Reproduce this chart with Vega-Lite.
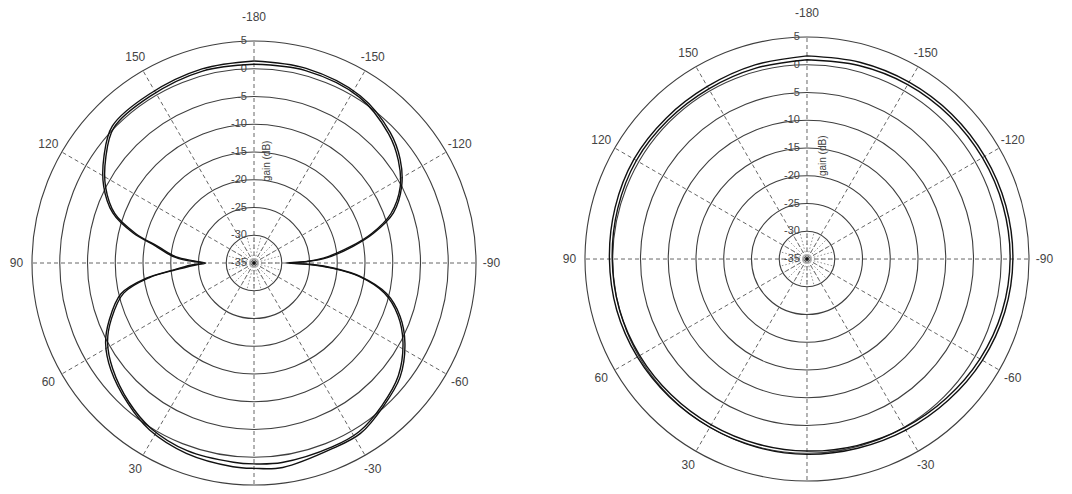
{
  "$schema": "https://vega.github.io/schema/vega-lite/v6.json",
  "padding": 0,
  "spacing": 0,
  "background": "white",
  "config": {"view": {"stroke": null}, "text": {"font": "Liberation Sans"}},
  "datasets": {
    "rings": [{"r": 5}, {"r": 10}, {"r": 15}, {"r": 20}, {"r": 25}, {"r": 30}, {"r": 35}, {"r": 40}],
    "spokes": [{"a": 0}, {"a": 30}, {"a": 60}, {"a": 90}, {"a": 120}, {"a": 150}, {"a": 180}, {"a": 210}, {"a": 240}, {"a": 270}, {"a": 300}, {"a": 330}],
    "minor": [{"a": 0}, {"a": 15}, {"a": 30}, {"a": 45}, {"a": 60}, {"a": 75}, {"a": 90}, {"a": 105}, {"a": 120}, {"a": 135}, {"a": 150}, {"a": 165}, {"a": 180}, {"a": 195}, {"a": 210}, {"a": 225}, {"a": 240}, {"a": 255}, {"a": 270}, {"a": 285}, {"a": 300}, {"a": 315}, {"a": 330}, {"a": 345}],
    "angleLabels": [
      {"a": 180, "t": "-180"}, {"a": 150, "t": "150"}, {"a": 120, "t": "120"}, {"a": 90, "t": "90"},
      {"a": 60, "t": "60"}, {"a": 30, "t": "30"}, {"a": -30, "t": "-30"}, {"a": -60, "t": "-60"},
      {"a": -90, "t": "-90"}, {"a": -120, "t": "-120"}, {"a": -150, "t": "-150"}
    ],
    "gainLabels": [
      {"g": 5, "t": "5"}, {"g": 0, "t": "0"}, {"g": -5, "t": "-5"}, {"g": -10, "t": "-10"},
      {"g": -15, "t": "-15"}, {"g": -20, "t": "-20"}, {"g": -25, "t": "-25"}, {"g": -30, "t": "-30"}, {"g": -35, "t": "-35"}
    ],
    "leftPattern": [
      {"trace": "A", "a": -180, "g": 1.4}, {"trace": "A", "a": -165, "g": 1.3}, {"trace": "A", "a": -147.6, "g": 0.7},
      {"trace": "A", "a": -133.8, "g": -1.0}, {"trace": "A", "a": -125.4, "g": -2.7}, {"trace": "A", "a": -117.5, "g": -5.0},
      {"trace": "A", "a": -109.8, "g": -8.3}, {"trace": "A", "a": -104, "g": -12.8}, {"trace": "A", "a": -99.6, "g": -16.9},
      {"trace": "A", "a": -94, "g": -21.9}, {"trace": "A", "a": -91.5, "g": -25.5}, {"trace": "A", "a": -90, "g": -29.2},
      {"trace": "A", "a": -88.5, "g": -24.5}, {"trace": "A", "a": -86.4, "g": -20.7}, {"trace": "A", "a": -82.8, "g": -15.7},
      {"trace": "A", "a": -77, "g": -10.5}, {"trace": "A", "a": -70, "g": -7.0}, {"trace": "A", "a": -62, "g": -4.2},
      {"trace": "A", "a": -52, "g": -1.6}, {"trace": "A", "a": -42, "g": -0.2}, {"trace": "A", "a": -32, "g": 1.2},
      {"trace": "A", "a": -23, "g": 1.3}, {"trace": "A", "a": -8, "g": 2.2}, {"trace": "A", "a": 0, "g": 2.0},
      {"trace": "A", "a": 5.9, "g": 1.9}, {"trace": "A", "a": 19.6, "g": 1.4}, {"trace": "A", "a": 32, "g": 0.5},
      {"trace": "A", "a": 42, "g": -1.0}, {"trace": "A", "a": 53.2, "g": -2.8}, {"trace": "A", "a": 61.6, "g": -4.6},
      {"trace": "A", "a": 68.6, "g": -7.0}, {"trace": "A", "a": 77, "g": -10.4}, {"trace": "A", "a": 82, "g": -15.4},
      {"trace": "A", "a": 85, "g": -20.3}, {"trace": "A", "a": 88, "g": -23.5}, {"trace": "A", "a": 90, "g": -25.8},
      {"trace": "A", "a": 92, "g": -23.0}, {"trace": "A", "a": 94.7, "g": -20.3}, {"trace": "A", "a": 99.7, "g": -17.1},
      {"trace": "A", "a": 104, "g": -12.5}, {"trace": "A", "a": 109.5, "g": -8.0}, {"trace": "A", "a": 117, "g": -4.6},
      {"trace": "A", "a": 125.5, "g": -1.8}, {"trace": "A", "a": 134, "g": 0.5}, {"trace": "A", "a": 148, "g": 0.8},
      {"trace": "A", "a": 165, "g": 1.2}, {"trace": "A", "a": 180, "g": 1.4},
      {"trace": "B", "a": -180, "g": 0.8}, {"trace": "B", "a": -165, "g": 0.9}, {"trace": "B", "a": -147.6, "g": 0.4},
      {"trace": "B", "a": -133.8, "g": -1.4}, {"trace": "B", "a": -125.4, "g": -3.1}, {"trace": "B", "a": -117.5, "g": -5.3},
      {"trace": "B", "a": -109.8, "g": -8.8}, {"trace": "B", "a": -104, "g": -13.2}, {"trace": "B", "a": -99.6, "g": -17.4},
      {"trace": "B", "a": -94, "g": -22.5}, {"trace": "B", "a": -91.5, "g": -26.0}, {"trace": "B", "a": -90, "g": -28.5},
      {"trace": "B", "a": -88.5, "g": -25.0}, {"trace": "B", "a": -86.4, "g": -21.2}, {"trace": "B", "a": -82.8, "g": -16.0},
      {"trace": "B", "a": -77, "g": -10.9}, {"trace": "B", "a": -70, "g": -7.4}, {"trace": "B", "a": -62, "g": -4.6},
      {"trace": "B", "a": -52, "g": -2.0}, {"trace": "B", "a": -42, "g": -0.5}, {"trace": "B", "a": -32, "g": 0.8},
      {"trace": "B", "a": -23, "g": 1.0}, {"trace": "B", "a": -8, "g": 1.3}, {"trace": "B", "a": 0, "g": 1.2},
      {"trace": "B", "a": 5.9, "g": 1.1}, {"trace": "B", "a": 19.6, "g": 0.9}, {"trace": "B", "a": 32, "g": 0.1},
      {"trace": "B", "a": 42, "g": -1.3}, {"trace": "B", "a": 53.2, "g": -3.2}, {"trace": "B", "a": 61.6, "g": -5.0},
      {"trace": "B", "a": 68.6, "g": -7.4}, {"trace": "B", "a": 77, "g": -10.9}, {"trace": "B", "a": 82, "g": -15.9},
      {"trace": "B", "a": 85, "g": -20.8}, {"trace": "B", "a": 88, "g": -24.5}, {"trace": "B", "a": 90, "g": -26.3},
      {"trace": "B", "a": 92, "g": -24.2}, {"trace": "B", "a": 94.7, "g": -20.8}, {"trace": "B", "a": 99.7, "g": -17.5},
      {"trace": "B", "a": 104, "g": -13.0}, {"trace": "B", "a": 109.5, "g": -8.4}, {"trace": "B", "a": 117, "g": -5.0},
      {"trace": "B", "a": 125.5, "g": -2.2}, {"trace": "B", "a": 134, "g": 0.1}, {"trace": "B", "a": 148, "g": 0.4},
      {"trace": "B", "a": 165, "g": 0.8}, {"trace": "B", "a": 180, "g": 0.8}
    ],
    "rightPattern": [
      {"trace": "A", "a": -180, "g": 1.6}, {"trace": "A", "a": -165, "g": 1.7}, {"trace": "A", "a": -150, "g": 1.8},
      {"trace": "A", "a": -135, "g": 1.9}, {"trace": "A", "a": -120, "g": 2.0}, {"trace": "A", "a": -105, "g": 2.1},
      {"trace": "A", "a": -90, "g": 2.1}, {"trace": "A", "a": -75, "g": 1.9}, {"trace": "A", "a": -60, "g": 1.5},
      {"trace": "A", "a": -45, "g": 1.0}, {"trace": "A", "a": -30, "g": 0.6}, {"trace": "A", "a": -15, "g": 0.3},
      {"trace": "A", "a": 0, "g": 0.2}, {"trace": "A", "a": 15, "g": 0.1}, {"trace": "A", "a": 30, "g": 0.0},
      {"trace": "A", "a": 45, "g": 0.1}, {"trace": "A", "a": 60, "g": 0.3}, {"trace": "A", "a": 75, "g": 0.5},
      {"trace": "A", "a": 90, "g": 0.6}, {"trace": "A", "a": 105, "g": 0.8}, {"trace": "A", "a": 120, "g": 1.0},
      {"trace": "A", "a": 135, "g": 0.9}, {"trace": "A", "a": 150, "g": 0.9}, {"trace": "A", "a": 165, "g": 1.2},
      {"trace": "A", "a": 180, "g": 1.6},
      {"trace": "B", "a": -180, "g": 0.9}, {"trace": "B", "a": -165, "g": 1.1}, {"trace": "B", "a": -150, "g": 1.3},
      {"trace": "B", "a": -135, "g": 1.4}, {"trace": "B", "a": -120, "g": 1.5}, {"trace": "B", "a": -105, "g": 1.6},
      {"trace": "B", "a": -90, "g": 1.6}, {"trace": "B", "a": -75, "g": 1.4}, {"trace": "B", "a": -60, "g": 1.0},
      {"trace": "B", "a": -45, "g": 0.5}, {"trace": "B", "a": -30, "g": 0.1}, {"trace": "B", "a": -15, "g": -0.2},
      {"trace": "B", "a": 0, "g": -0.4}, {"trace": "B", "a": 15, "g": -0.5}, {"trace": "B", "a": 30, "g": -0.5},
      {"trace": "B", "a": 45, "g": -0.4}, {"trace": "B", "a": 60, "g": -0.2}, {"trace": "B", "a": 75, "g": 0.0},
      {"trace": "B", "a": 90, "g": 0.1}, {"trace": "B", "a": 105, "g": 0.3}, {"trace": "B", "a": 120, "g": 0.5},
      {"trace": "B", "a": 135, "g": 0.4}, {"trace": "B", "a": 150, "g": 0.4}, {"trace": "B", "a": 165, "g": 0.6},
      {"trace": "B", "a": 180, "g": 0.9}
    ]
  },
  "hconcat": [
    {
      "width": 530,
      "height": 494,
      "layer": [
        {
          "data": {"name": "rings"},
          "transform": [{"calculate": "0", "as": "cx"}],
          "mark": {"type": "point", "shape": "circle", "filled": false, "stroke": "#3f3f3f", "strokeWidth": 1.1, "opacity": 1},
          "encoding": {
            "x": {"field": "cx", "type": "quantitative", "scale": {"domain": [-45.77, 49.73], "nice": false, "zero": false}, "axis": null},
            "y": {"field": "cx", "type": "quantitative", "scale": {"domain": [-41.62, 47.39], "nice": false, "zero": false}, "axis": null},
            "size": {"field": "r", "type": "quantitative", "scale": {"type": "pow", "exponent": 2, "domain": [0, 40], "range": [0, 197136], "zero": true}, "legend": null}
          }
        },
        {
          "data": {"name": "spokes"},
          "transform": [
            {"calculate": "0", "as": "cx"},
            {"calculate": "-40*sin(datum.a*PI/180)", "as": "sx"},
            {"calculate": "-40*cos(datum.a*PI/180)", "as": "sy"}
          ],
          "mark": {"type": "rule", "stroke": "#555", "strokeWidth": 0.9, "strokeDash": [4, 3]},
          "encoding": {
            "x": {"field": "cx", "type": "quantitative"},
            "y": {"field": "cx", "type": "quantitative"},
            "x2": {"field": "sx"},
            "y2": {"field": "sy"}
          }
        },
        {
          "data": {"name": "minor"},
          "transform": [
            {"calculate": "0", "as": "cx"},
            {"calculate": "-5*sin(datum.a*PI/180)", "as": "sx"},
            {"calculate": "-5*cos(datum.a*PI/180)", "as": "sy"}
          ],
          "mark": {"type": "rule", "stroke": "#777", "strokeWidth": 0.8, "strokeDash": [1.5, 2]},
          "encoding": {
            "x": {"field": "cx", "type": "quantitative"},
            "y": {"field": "cx", "type": "quantitative"},
            "x2": {"field": "sx"},
            "y2": {"field": "sy"}
          }
        },
        {
          "data": {"name": "gainLabels"},
          "transform": [{"calculate": "datum.g+35", "as": "r"}, {"calculate": "-1.1", "as": "lx"}],
          "mark": {"type": "text", "align": "right", "baseline": "middle", "fontSize": 11, "color": "#444", "dx": -1},
          "encoding": {
            "x": {"field": "lx", "type": "quantitative"},
            "y": {"field": "r", "type": "quantitative"},
            "text": {"field": "t", "type": "nominal"}
          }
        },
        {
          "data": {"name": "angleLabels"},
          "transform": [
            {"calculate": "datum.a == 180 ? 44.3 : 42.8", "as": "lr"},
            {"calculate": "-datum.lr*sin(datum.a*PI/180)", "as": "lx"},
            {"calculate": "-datum.lr*cos(datum.a*PI/180)", "as": "ly"}
          ],
          "mark": {"type": "text", "align": "center", "baseline": "middle", "fontSize": 12, "color": "#444"},
          "encoding": {
            "x": {"field": "lx", "type": "quantitative"},
            "y": {"field": "ly", "type": "quantitative"},
            "text": {"field": "t", "type": "nominal"}
          }
        },
        {
          "data": {"values": [{"t": "gain (dB)", "lx": 2.4, "ly": 18.4}]},
          "mark": {"type": "text", "angle": 270, "align": "center", "baseline": "middle", "fontSize": 10, "color": "#444"},
          "encoding": {
            "x": {"field": "lx", "type": "quantitative"},
            "y": {"field": "ly", "type": "quantitative"},
            "text": {"field": "t", "type": "nominal"}
          }
        },
        {
          "data": {"name": "leftPattern"},
          "transform": [
            {"calculate": "max(datum.g+35, 0)", "as": "rr"},
            {"calculate": "-datum.rr*sin(datum.a*PI/180)", "as": "x"},
            {"calculate": "-datum.rr*cos(datum.a*PI/180)", "as": "y"}
          ],
          "mark": {"type": "line", "stroke": "#111", "strokeWidth": 1.4, "interpolate": "catmull-rom", "strokeJoin": "round"},
          "encoding": {
            "x": {"field": "x", "type": "quantitative"},
            "y": {"field": "y", "type": "quantitative"},
            "detail": {"field": "trace", "type": "nominal"},
            "order": {"field": "a", "type": "quantitative"}
          }
        },
        {
          "data": {"values": [{"cx": 0}]},
          "mark": {"type": "point", "filled": true, "size": 12, "color": "#111", "opacity": 1},
          "encoding": {
            "x": {"field": "cx", "type": "quantitative"},
            "y": {"field": "cx", "type": "quantitative"}
          }
        }
      ]
    },
    {
      "width": 542,
      "height": 494,
      "layer": [
        {
          "data": {"name": "rings"},
          "transform": [{"calculate": "0", "as": "cx"}],
          "mark": {"type": "point", "shape": "circle", "filled": false, "stroke": "#3f3f3f", "strokeWidth": 1.1, "opacity": 1},
          "encoding": {
            "x": {"field": "cx", "type": "quantitative", "scale": {"domain": [-49.91, 47.75], "nice": false, "zero": false}, "axis": null},
            "y": {"field": "cx", "type": "quantitative", "scale": {"domain": [-42.34, 46.67], "nice": false, "zero": false}, "axis": null},
            "size": {"field": "r", "type": "quantitative", "scale": {"type": "pow", "exponent": 2, "domain": [0, 40], "range": [0, 197136], "zero": true}, "legend": null}
          }
        },
        {
          "data": {"name": "spokes"},
          "transform": [
            {"calculate": "0", "as": "cx"},
            {"calculate": "-40*sin(datum.a*PI/180)", "as": "sx"},
            {"calculate": "-40*cos(datum.a*PI/180)", "as": "sy"}
          ],
          "mark": {"type": "rule", "stroke": "#555", "strokeWidth": 0.9, "strokeDash": [4, 3]},
          "encoding": {
            "x": {"field": "cx", "type": "quantitative"},
            "y": {"field": "cx", "type": "quantitative"},
            "x2": {"field": "sx"},
            "y2": {"field": "sy"}
          }
        },
        {
          "data": {"name": "minor"},
          "transform": [
            {"calculate": "0", "as": "cx"},
            {"calculate": "-5*sin(datum.a*PI/180)", "as": "sx"},
            {"calculate": "-5*cos(datum.a*PI/180)", "as": "sy"}
          ],
          "mark": {"type": "rule", "stroke": "#777", "strokeWidth": 0.8, "strokeDash": [1.5, 2]},
          "encoding": {
            "x": {"field": "cx", "type": "quantitative"},
            "y": {"field": "cx", "type": "quantitative"},
            "x2": {"field": "sx"},
            "y2": {"field": "sy"}
          }
        },
        {
          "data": {"name": "gainLabels"},
          "transform": [{"calculate": "datum.g+35", "as": "r"}, {"calculate": "-1.1", "as": "lx"}],
          "mark": {"type": "text", "align": "right", "baseline": "middle", "fontSize": 11, "color": "#444", "dx": -1},
          "encoding": {
            "x": {"field": "lx", "type": "quantitative"},
            "y": {"field": "r", "type": "quantitative"},
            "text": {"field": "t", "type": "nominal"}
          }
        },
        {
          "data": {"name": "angleLabels"},
          "transform": [
            {"calculate": "datum.a == 180 ? 44.3 : 42.8", "as": "lr"},
            {"calculate": "-datum.lr*sin(datum.a*PI/180)", "as": "lx"},
            {"calculate": "-datum.lr*cos(datum.a*PI/180)", "as": "ly"}
          ],
          "mark": {"type": "text", "align": "center", "baseline": "middle", "fontSize": 12, "color": "#444"},
          "encoding": {
            "x": {"field": "lx", "type": "quantitative"},
            "y": {"field": "ly", "type": "quantitative"},
            "text": {"field": "t", "type": "nominal"}
          }
        },
        {
          "data": {"values": [{"t": "gain (dB)", "lx": 2.9, "ly": 18.6}]},
          "mark": {"type": "text", "angle": 270, "align": "center", "baseline": "middle", "fontSize": 10, "color": "#444"},
          "encoding": {
            "x": {"field": "lx", "type": "quantitative"},
            "y": {"field": "ly", "type": "quantitative"},
            "text": {"field": "t", "type": "nominal"}
          }
        },
        {
          "data": {"name": "rightPattern"},
          "transform": [
            {"calculate": "max(datum.g+35, 0)", "as": "rr"},
            {"calculate": "-datum.rr*sin(datum.a*PI/180)", "as": "x"},
            {"calculate": "-datum.rr*cos(datum.a*PI/180)", "as": "y"}
          ],
          "mark": {"type": "line", "stroke": "#111", "strokeWidth": 1.4, "interpolate": "catmull-rom", "strokeJoin": "round"},
          "encoding": {
            "x": {"field": "x", "type": "quantitative"},
            "y": {"field": "y", "type": "quantitative"},
            "detail": {"field": "trace", "type": "nominal"},
            "order": {"field": "a", "type": "quantitative"}
          }
        },
        {
          "data": {"values": [{"cx": 0}]},
          "mark": {"type": "point", "filled": true, "size": 12, "color": "#111", "opacity": 1},
          "encoding": {
            "x": {"field": "cx", "type": "quantitative"},
            "y": {"field": "cx", "type": "quantitative"}
          }
        }
      ]
    }
  ]
}
